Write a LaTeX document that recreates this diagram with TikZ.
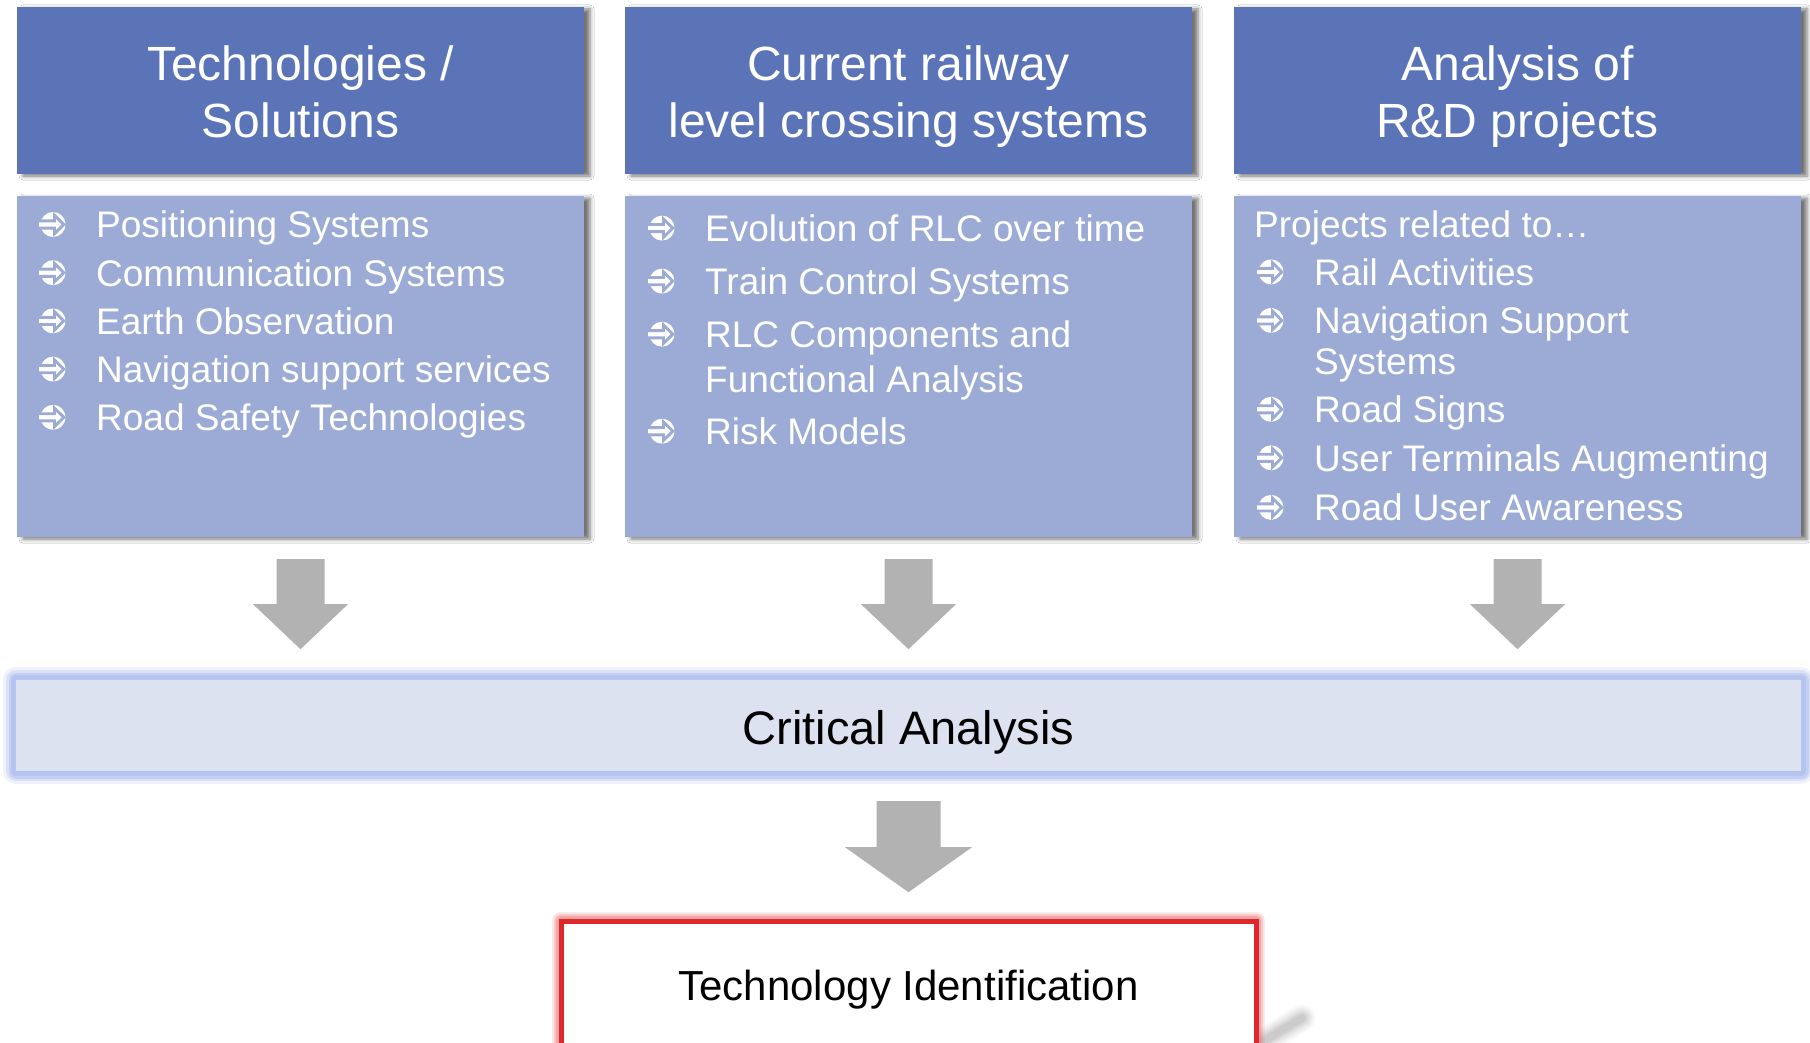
\documentclass[tikz,border=0pt]{standalone}
\usepackage{fontspec}
\setmainfont{Liberation Sans}
\usetikzlibrary{shadows.blur}

\definecolor{headblue}{RGB}{91,116,183}
\definecolor{bodyblue}{RGB}{155,171,214}
\definecolor{critfill}{RGB}{221,226,240}
\definecolor{critglow}{RGB}{170,187,238}
\definecolor{arrowgray}{RGB}{178,178,178}
\definecolor{tidred}{RGB}{224,40,44}

\tikzset{
  boxshadow/.style={blur shadow={shadow xshift=6pt, shadow yshift=-2pt,
      shadow blur radius=4pt, shadow opacity=55}},
  headbox/.style={boxshadow, fill=headblue, minimum width=567pt, minimum height=167pt,
      inner sep=0pt},
  headtext/.style={anchor=base, inner sep=0pt, text=white,
      font=\fontsize{48}{57}\selectfont},
  bodybox/.style={boxshadow, fill=bodyblue, minimum width=567pt, minimum height=341pt,
      inner sep=0pt},
  itemtext/.style={anchor=base west, inner sep=0pt, text=white,
      font=\fontsize{37}{44}\selectfont},
  pics/bul/.style={code={
      \fill[white] (0,0) circle (12.5);
      \filldraw[fill=white, draw=bodyblue, line width=2.9pt, line join=miter]
        (-14,-3.6) -- (1.5,-3.6) -- (1.5,-9.2) -- (10.8,0) -- (1.5,9.2) -- (1.5,3.6) -- (-14,3.6);}},
  pics/downarr/.style args={#1/#2/#3/#4}{code={
      \fill[arrowgray] (-#1,0) -- (#1,0) -- (#1,#3) -- (#2,#3) -- (0,#4)
        -- (-#2,#3) -- (-#1,#3) -- cycle;}}
}

\begin{document}
\begin{tikzpicture}[x=1pt, y=-1pt]
\clip (0,0) rectangle (1810,1043);
\useasboundingbox (0,0) rectangle (1810,1043);
\fill[white] (0,0) rectangle (1810,1043);

% column headers
\node[headbox] (h1) at (300.5,90.5) {};
\node[headbox] (h2) at (908.5,90.5) {};
\node[headbox] (h3) at (1517.5,90.5) {};
\node[headtext] (h1a) at (300.5,80.7) {Technologies /};
\node[headtext] (h1b) at (300.5,137.2) {Solutions};
\node[headtext] (h2a) at (908.5,80.7) {Current railway};
\node[headtext] (h2b) at (908.5,137.2) {level crossing systems};
\node[headtext] (h3a) at (1517.5,80.7) {Analysis of};
\node[headtext] (h3b) at (1517.5,137.2) {R\&D projects};

% column bodies
\node[bodybox] (b1) at (300.5,366.5) {};
\node[bodybox] (b2) at (908.5,366.5) {};
\node[bodybox] (b3) at (1517.5,366.5) {};

% first column items
\node[itemtext] (t11) at (96,238) {Positioning Systems};
\node[itemtext] (t12) at (96,286.2) {Communication Systems};
\node[itemtext] (t13) at (96,334.4) {Earth Observation};
\node[itemtext] (t14) at (96,382.6) {Navigation support services};
\node[itemtext] (t15) at (96,430.8) {Road Safety Technologies};

% second column items
\node[itemtext] (t21) at (705,241.6) {Evolution of RLC over time};
\node[itemtext] (t22) at (705,294.6) {Train Control Systems};
\node[itemtext] (t23) at (705,347.7) {RLC Components and};
\node[itemtext] (t23b) at (705,392.8) {Functional Analysis};
\node[itemtext] (t24) at (705,444.7) {Risk Models};

% third column items
\node[itemtext] (t30) at (1254,238) {Projects related to…};
\node[itemtext] (t31) at (1314,285.4) {Rail Activities};
\node[itemtext] (t32) at (1314,333.9) {Navigation Support};
\node[itemtext] (t32b) at (1314,374.3) {Systems};
\node[itemtext] (t33) at (1314,422.8) {Road Signs};
\node[itemtext] (t34) at (1314,471.3) {User Terminals Augmenting};
\node[itemtext] (t35) at (1314,520.9) {Road User Awareness};

% circled-arrow bullets in front of the items
\foreach \t in {t11,t12,t13,t14,t15,t21,t22,t23,t24,t31,t32,t33,t34,t35}
  \pic at ([xshift=-43pt, yshift=13.5pt]\t.base west) {bul};

% downward block arrows from the columns
\pic at ([yshift=-22pt]b1.south) {downarr={24/47.5/45/90}};
\pic at ([yshift=-22pt]b2.south) {downarr={24/47.5/45/90}};
\pic at ([yshift=-22pt]b3.south) {downarr={24/47.5/45/90}};

% critical analysis band with its blue glow
\foreach \w/\o in {26/0.18,20/0.3,15/0.45,10/0.6}
  \draw[critglow, line width=\w pt, opacity=\o, line join=round] (16,680) rectangle (1801,771);
\node[fill=critfill, minimum width=1785pt, minimum height=91pt, inner sep=0pt] (ca) at (908.5,725.5) {};
\node[anchor=base, inner sep=0pt, font=\fontsize{47}{56}\selectfont] (cat) at (908.5,744) {Critical Analysis};

\pic at ([yshift=-30pt]ca.south) {downarr={32/63.5/46/91}};

% result box with red glow and a soft cast shadow
\foreach \w in {26,21,17,13,10,7}
  \draw[black, line width=\w pt, opacity=0.035, line cap=round] (1262,1042) -- (1302,1018);
\foreach \w/\o in {18/0.15,14/0.25,10/0.35}
  \draw[tidred!70, line width=\w pt, opacity=\o, line join=round] (561,921) rectangle (1256,1070);
\node[draw=tidred, line width=5pt, fill=white, minimum width=695pt, minimum height=149pt,
      inner sep=0pt] (ti) at (908.5,995.5) {};
\node[anchor=base, inner sep=0pt, font=\fontsize{42}{50}\selectfont] (tt) at (908.5,1000) {Technology Identification};
\end{tikzpicture}
\end{document}
